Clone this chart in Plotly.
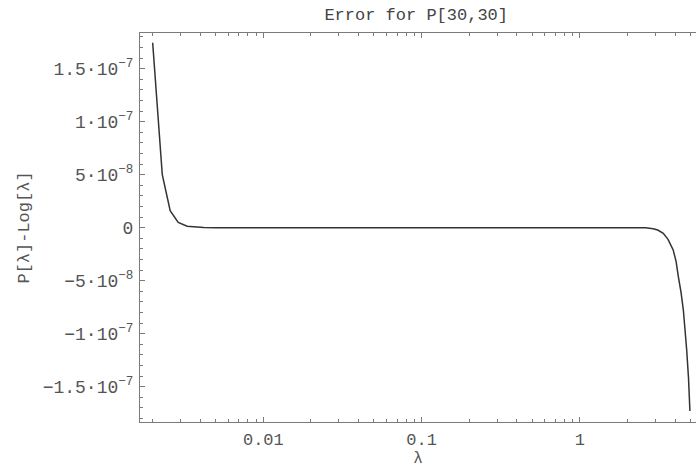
import plotly.graph_objects as go

# Sampled error curve P[λ] - Log[λ] for the [30,30] approximant
lam = [0.002, 0.0023, 0.00258, 0.0029, 0.0033, 0.0037, 0.0042, 0.005, 0.007,
       0.01, 0.03, 0.1, 0.3, 1.0, 2.0, 2.6, 2.9, 3.1, 3.36, 3.6, 3.88, 4.05,
       4.18, 4.35, 4.5, 4.62, 4.72, 4.85, 4.95]
err = [1.745e-7, 5.0e-8, 1.6e-8, 5.0e-9, 1.3e-9, 4e-10, 1e-10, 0.0, 0.0,
       0.0, 0.0, 0.0, 0.0, 0.0, 0.0, -2e-10, -1e-9, -2.2e-9, -5.3e-9, -1.1e-8,
       -2.1e-8, -3.2e-8, -4.6e-8, -6.1e-8, -7.8e-8, -9.6e-8, -1.15e-7,
       -1.42e-7, -1.73e-7]

x_tickvals = [0.01, 0.1, 1]
x_ticktext = ["0.01", "0.1", "1"]
x_minor = [0.002, 0.003, 0.004, 0.005, 0.006, 0.007, 0.008, 0.009,
           0.02, 0.03, 0.04, 0.05, 0.06, 0.07, 0.08, 0.09,
           0.2, 0.3, 0.4, 0.5, 0.6, 0.7, 0.8, 0.9,
           2, 3, 4, 5]

y_tickvals = [1.5e-7, 1e-7, 5e-8, 0, -5e-8, -1e-7, -1.5e-7]
y_ticktext = ["1.5·10<sup>−7</sup>", "1·10<sup>−7</sup>", "5·10<sup>−8</sup>", "0",
              "−5·10<sup>−8</sup>", "−1·10<sup>−7</sup>", "−1.5·10<sup>−7</sup>"]
y_minor = [i * 1e-8 for i in range(-18, 19) if i % 5 != 0]

FONT = "Liberation Mono, Courier New, monospace"
AXIS = "#7a7a7a"
TEXT = "#555555"

fig = go.Figure()
fig.add_trace(go.Scatter(x=lam, y=err, mode="lines",
                         line=dict(color="#333333", width=1.5),
                         showlegend=False))

fig.update_layout(
    width=696, height=468,
    margin=dict(l=140, r=0, t=33, b=46),
    paper_bgcolor="white", plot_bgcolor="white",
    font=dict(family=FONT, color=TEXT, size=17),
    title=dict(text="Error for P[30,30]", x=0.598, xanchor="center",
               y=0.97, yanchor="middle",
               font=dict(family=FONT, size=17, color="#444444")),
)

fig.update_xaxes(
    type="log", range=[-2.779, 0.733],
    tickvals=x_tickvals, ticktext=x_ticktext,
    ticks="inside", ticklen=5, tickwidth=1, tickcolor=AXIS,
    minor=dict(tickvals=x_minor, ticks="inside", ticklen=3, tickwidth=1,
               tickcolor=AXIS),
    showline=True, linecolor=AXIS, linewidth=1, mirror="ticks",
    showgrid=False, zeroline=False,
    tickfont=dict(family=FONT, size=17, color=TEXT),
    ticklabelstandoff=2,
    title=dict(text="λ", standoff=3, font=dict(family=FONT, size=16, color=TEXT)),
)

fig.update_yaxes(
    range=[-1.834e-7, 1.837e-7],
    tickvals=y_tickvals, ticktext=y_ticktext,
    ticks="inside", ticklen=5, tickwidth=1, tickcolor=AXIS,
    minor=dict(tickvals=y_minor, ticks="inside", ticklen=3, tickwidth=1,
               tickcolor=AXIS),
    showline=True, linecolor=AXIS, linewidth=1,
    showgrid=False, zeroline=False,
    ticklabelstandoff=2,
    tickfont=dict(family=FONT, size=18, color=TEXT),
    title=dict(text="P[λ]-Log[λ]", standoff=8,
               font=dict(family=FONT, size=17, color=TEXT)),
)

fig.write_html("out.html")
